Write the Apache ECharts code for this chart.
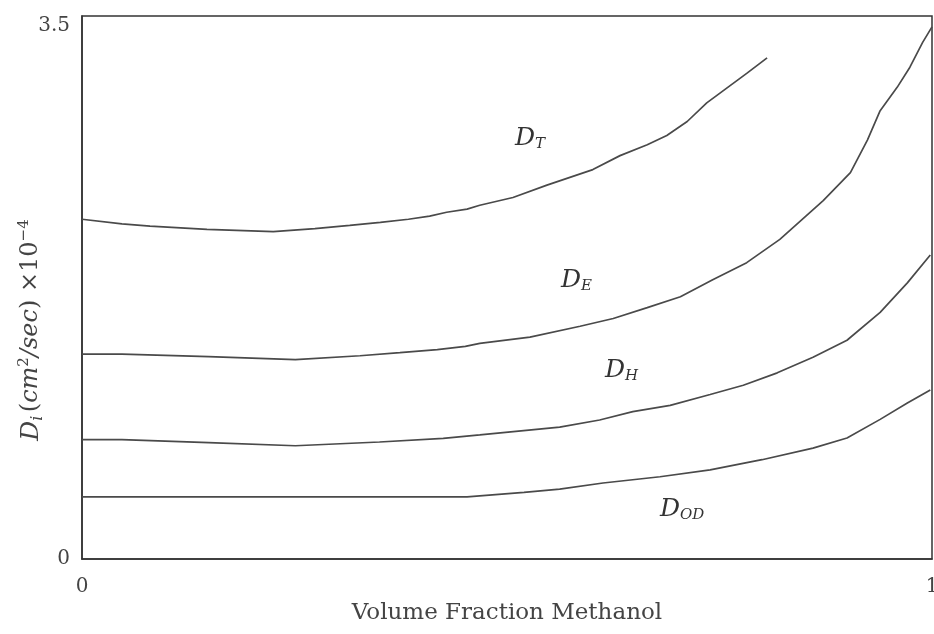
<!DOCTYPE html>
<html>
<head>
<meta charset="utf-8">
<script src="https://cdn.jsdelivr.net/npm/echarts@6/dist/echarts.min.js"></script>
<style>html,body{margin:0;padding:0;background:#fff;}#c{width:934px;height:634px;}</style>
</head>
<body>
<div id="c"></div>
<script>
var xTicks = ['0', '1'];
var yTicks = ['0', '3.5'];
var seriesNames = ['D_T', 'D_E', 'D_H', 'D_OD'];
var dT = [[0,2.19],[0.047,2.16],[0.08,2.145],[0.147,2.125],[0.225,2.11],[0.274,2.13],[0.315,2.15],[0.351,2.17],[0.384,2.19],[0.409,2.21],[0.429,2.235],[0.453,2.255],[0.468,2.28],[0.507,2.33],[0.547,2.41],[0.601,2.51],[0.633,2.60],[0.665,2.67],[0.688,2.73],[0.712,2.82],[0.735,2.94],[0.782,3.13],[0.806,3.23]];
var dE = [[0,1.32],[0.047,1.32],[0.149,1.305],[0.251,1.285],[0.327,1.31],[0.374,1.33],[0.418,1.35],[0.451,1.37],[0.468,1.39],[0.527,1.43],[0.586,1.50],[0.625,1.55],[0.665,1.62],[0.704,1.69],[0.742,1.80],[0.782,1.91],[0.821,2.06],[0.872,2.31],[0.904,2.49],[0.924,2.70],[0.939,2.89],[0.959,3.04],[0.974,3.17],[0.989,3.33],[1.0,3.43]];
var dH = [[0,0.77],[0.047,0.77],[0.149,0.75],[0.251,0.73],[0.35,0.754],[0.425,0.778],[0.468,0.80],[0.562,0.85],[0.609,0.896],[0.648,0.95],[0.692,0.99],[0.739,1.06],[0.778,1.12],[0.818,1.20],[0.860,1.30],[0.900,1.41],[0.939,1.59],[0.971,1.78],[0.998,1.96]];
var dOD = [[0,0.40],[0.453,0.40],[0.52,0.43],[0.562,0.45],[0.613,0.49],[0.68,0.53],[0.739,0.574],[0.8,0.64],[0.860,0.715],[0.9,0.78],[0.939,0.90],[0.971,1.005],[0.998,1.09]];

var serif = '"DejaVu Serif", "Liberation Serif", serif';
var lineCol = '#4a4a4a';
function mkSeries(name, data) {
  return {
    name: name, type: 'line', data: data, showSymbol: false, smooth: false,
    lineStyle: { color: lineCol, width: 1.7 }, silent: true
  };
}
function lab(x, y, sub) {
  return {
    type: 'text', left: x, top: y, silent: true,
    style: {
      rich: {
        d: { fontFamily: serif, fontStyle: 'italic', fontSize: 25, fill: '#333' },
        s: { fontFamily: serif, fontStyle: 'italic', fontSize: 15, fill: '#333', padding: [12, 0, 0, 0] }
      },
      text: '{d|D}{s|' + sub + '}'
    }
  };
}
var chart = echarts.init(document.getElementById('c'));
chart.setOption({
  animation: false,
  backgroundColor: '#fff',
  grid: { left: 82, right: 2, top: 16, bottom: 75, show: true, borderColor: '#333', borderWidth: 1.5,
    containLabel: false, outerBoundsMode: 'none' },
  xAxis: {
    type: 'value', min: 0, max: 1, interval: 1,
    axisLine: { lineStyle: { color: '#333', width: 1.5 } },
    axisTick: { show: false }, splitLine: { show: false },
    axisLabel: { margin: 18, fontFamily: serif, fontSize: 20, color: '#444',
      formatter: function (v) { return v === 0 ? xTicks[0] : xTicks[1]; } },
    name: 'Volume Fraction Methanol', nameLocation: 'middle', nameGap: 40,
    nameTextStyle: { fontFamily: serif, fontSize: 23, color: '#444' }
  },
  yAxis: {
    type: 'value', min: 0, max: 3.5, interval: 3.5,
    axisLine: { lineStyle: { color: '#333', width: 1.5 } },
    axisTick: { show: false }, splitLine: { show: false },
    axisLabel: { margin: 12, fontFamily: serif, fontSize: 20, color: '#444',
      verticalAlignMaxLabel: 'top',
      formatter: function (v) { return v === 0 ? yTicks[0] : yTicks[1]; } }
  },
  graphic: [
    lab(515, 126, 'T'),
    lab(561, 268, 'E'),
    lab(605, 358, 'H'),
    lab(660, 497, 'OD'),
    {
      type: 'text', x: 31, y: 330, rotation: Math.PI / 2, silent: true,
      style: {
        align: 'center', verticalAlign: 'middle',
        rich: {
          d: { fontFamily: serif, fontStyle: 'italic', fontSize: 25, fill: '#444' },
          i: { fontFamily: serif, fontStyle: 'italic', fontSize: 16, fill: '#444', padding: [14, 0, 0, 0] },
          t: { fontFamily: serif, fontStyle: 'italic', fontSize: 24, fill: '#444' },
          n: { fontFamily: serif, fontSize: 24, fill: '#444' },
          p: { fontFamily: serif, fontSize: 15, fill: '#444', padding: [0, 0, 14, 0] }
        },
        text: '{d|D}{i|i} {n|(}{t|cm}{p|2}{t|/sec}{n|) ×10}{p|−4}'
      }
    }
  ],
  series: [mkSeries(seriesNames[0], dT), mkSeries(seriesNames[1], dE), mkSeries(seriesNames[2], dH), mkSeries(seriesNames[3], dOD)]
});
</script>
</body>
</html>
